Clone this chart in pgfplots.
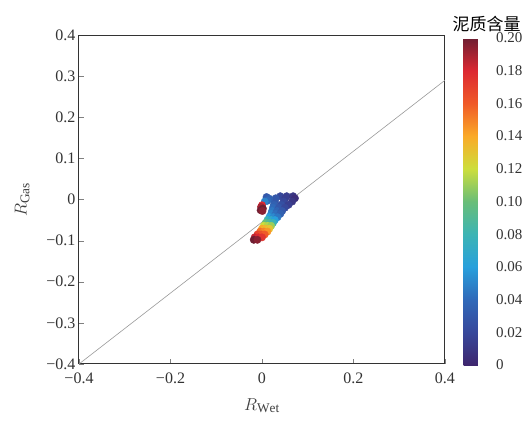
\documentclass[border=0pt]{standalone}
\usepackage{pgfplots}
\pgfplotsset{compat=1.18}
\usepackage{fontspec}
\setmainfont{Liberation Serif}
\newfontfamily\cjk{Noto Sans CJK SC}
\pgfplotsset{
  colormap={clay}{rgb255(0)=(62,38,110) rgb255(1)=(55,72,155) rgb255(2)=(48,105,185) rgb255(3)=(40,160,220) rgb255(4)=(60,180,180) rgb255(5)=(105,190,120) rgb255(6)=(205,222,60) rgb255(7)=(250,170,40) rgb255(8)=(240,90,40) rgb255(9)=(220,40,50) rgb255(10)=(110,30,50)}
}
\begin{document}
\begin{tikzpicture}
\useasboundingbox (-79pt,-59pt) rectangle (444pt,364pt);
\begin{axis}[
  scale only axis,
  width=366pt, height=329pt,
  xmin=-0.4, xmax=0.4, ymin=-0.4, ymax=0.4,
  xtick={-0.4,-0.2,0,0.2,0.4},
  xticklabels={−0.4,−0.2,0,0.2,0.4},
  ytick={-0.4,-0.3,-0.2,-0.1,0,0.1,0.2,0.3,0.4},
  yticklabels={−0.4,−0.3,−0.2,−0.1,0,0.1,0.2,0.3,0.4},
  tick pos=left, tick align=inside,
  major tick length=5pt,
  tick label style={font=\fontsize{16}{18}\selectfont, text=black!80},
  xticklabel style={yshift=-5pt},
  axis line style={black!80, line width=1pt},
  xlabel={$R_{\mathrm{Wet}}$},
  ylabel={$R_{\mathrm{Gas}}$},
  xlabel style={yshift=-8pt},
  ylabel style={yshift=10pt},
  label style={font=\fontsize{19}{21}\selectfont, text=black!75},
  colormap name=clay,
  point meta min=0, point meta max=0.2,
  colorbar,
  colorbar style={
    at={(parent axis.north east)}, anchor=north west,
    xshift=10pt, yshift=-3pt,
    width=28pt, height=327pt,
    ytick={0,0.02,0.04,0.06,0.08,0.1,0.12,0.14,0.16,0.18,0.2},
    yticklabels={0,0.02,0.04,0.06,0.08,0.10,0.12,0.14,0.16,0.18,0.20},
    major tick length=0pt,
    tick label style={font=\fontsize{15}{17}\selectfont, text=black!80},
    yticklabel style={xshift=1pt},
    axis line style={draw=none},
    title={\cjk 泥质含量},
    title style={font=\fontsize{17}{19}\selectfont, xshift=9pt, yshift=-3pt},
  },
]
\addplot[gray!80, line width=0.6pt] coordinates {(-0.4,-0.4) (0.4,0.29)};
\addplot[scatter, only marks, mark=*, mark size=3.7pt, scatter src=explicit,
  scatter/use mapped color={draw=mapped color, fill=mapped color}]
  table[meta=c] {
x y c
0.040 0.008 0.020
0.054 0.008 0.015
0.068 0.008 0.010
0.030 0.003 0.030
0.051 0.003 0.015
0.072 0.003 0.005
0.028 -0.005 0.030
0.047 -0.005 0.020
0.066 -0.005 0.010
0.026 -0.013 0.035
0.042 -0.013 0.025
0.058 -0.013 0.015
0.024 -0.020 0.040
0.037 -0.020 0.030
0.050 -0.020 0.020
0.022 -0.028 0.045
0.033 -0.028 0.037
0.044 -0.028 0.030
0.020 -0.035 0.050
0.030 -0.035 0.042
0.040 -0.035 0.035
0.016 -0.043 0.060
0.025 -0.043 0.052
0.034 -0.043 0.045
0.012 -0.050 0.080
0.020 -0.050 0.070
0.028 -0.050 0.060
0.008 -0.057 0.100
0.016 -0.057 0.090
0.024 -0.057 0.080
0.004 -0.064 0.120
0.012 -0.064 0.115
0.020 -0.064 0.110
0.000 -0.071 0.140
0.008 -0.071 0.135
0.016 -0.071 0.130
-0.004 -0.078 0.155
0.004 -0.078 0.150
0.012 -0.078 0.145
-0.010 -0.085 0.170
-0.002 -0.085 0.165
0.006 -0.085 0.160
-0.016 -0.092 0.185
-0.008 -0.092 0.180
0.000 -0.092 0.175
-0.018 -0.098 0.200
-0.010 -0.098 0.195
0.010 0.006 0.030
0.016 0.002 0.035
0.012 -0.003 0.040
0.006 -0.005 0.050
0.000 -0.014 0.180
-0.002 -0.018 0.190
0.002 -0.022 0.200
-0.003 -0.026 0.200
0.001 -0.028 0.195
}; 
\end{axis}
\end{tikzpicture}
\end{document}
